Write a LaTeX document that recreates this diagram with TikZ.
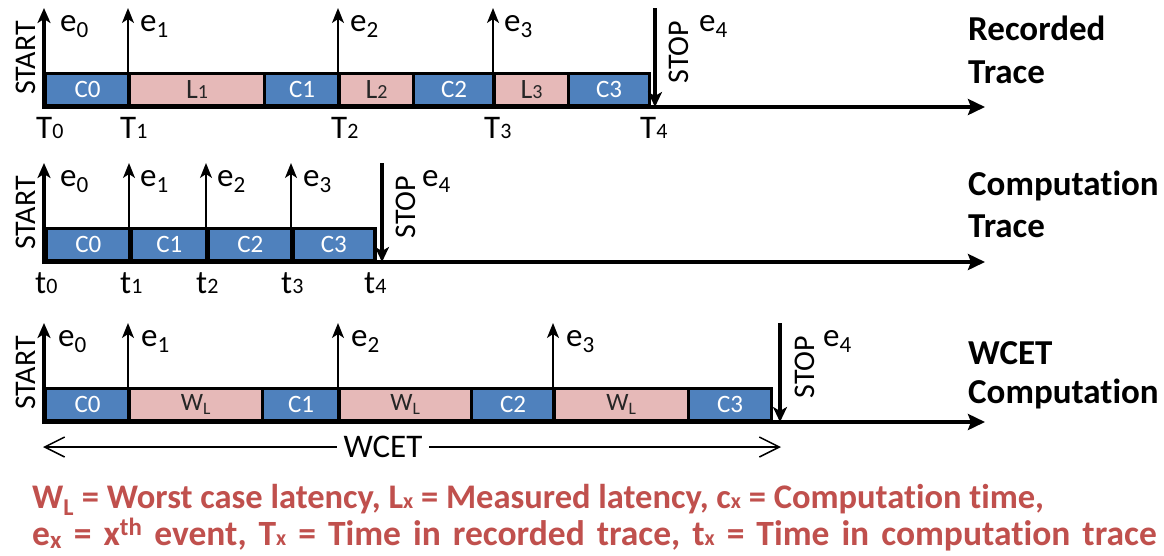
\documentclass[tikz,border=0pt]{standalone}
\usepackage{fontspec}
\setmainfont{Carlito}[Ligatures=NoCommon]
\usetikzlibrary{arrows.meta}
\definecolor{cblue}{RGB}{79,129,189}
\definecolor{cpink}{RGB}{230,185,184}
\definecolor{legred}{RGB}{192,80,77}
\newcommand\lblf{\fontsize{33}{38}\selectfont}
\newcommand\rotf{\fontsize{30}{36}\selectfont}
\newcommand\smd[1]{{\fontsize{22}{22}\selectfont #1}}
\newcommand\smc[1]{{\fontsize{20}{20}\selectfont #1}}
\newcommand\smb[1]{{\fontsize{22}{22}\selectfont #1}}
\tikzset{
  seg/.style={draw=black, line width=3pt, minimum height=32pt, inner sep=0pt, anchor=south west},
  cseg/.style={seg, fill=cblue, text=white, font=\fontsize{25}{25}\selectfont},
  lseg/.style={seg, fill=cpink, text=black!85, font=\fontsize{28}{28}\selectfont},
  wseg/.style={seg, fill=cpink, text=black!85, font=\fontsize{25}{25}\selectfont},
  axisline/.style={line width=4pt, -{Stealth[length=17pt,width=16pt,inset=3pt]}},
  evarrow/.style={line width=1.8pt, -{Stealth[length=15pt,width=12pt,inset=4pt]}},
  startarrow/.style={line width=4pt, -{Stealth[length=15pt,width=13pt,inset=4pt]}},
  stoparrow/.style={line width=4.5pt, -{Stealth[length=15pt,width=14pt,inset=4pt]}},
  lbl/.style={font=\lblf, inner sep=0pt, anchor=base west},
  rot/.style={font=\rotf, inner sep=0pt, rotate=90},
  ttl/.style={font=\bfseries\fontsize{35}{35}\selectfont, inner sep=0pt, anchor=base west},
  leg/.style={font=\bfseries\fontsize{34.5}{34.5}\selectfont, text=legred, inner sep=0pt, anchor=base west},
  legb/.style={font=\bfseries\fontsize{35.5}{35.5}\selectfont, text=legred, inner sep=0pt, anchor=base west},
  wcetarrow/.style={line width=1.5pt, {Straight Barb[length=20pt,width=20pt]}-{Straight Barb[length=20pt,width=20pt]}},
}
\newcommand\tseg[6]{\node[#5, minimum width={#3-#2}] (#1) at (#2,#4) {#6};}
\begin{document}
\begin{tikzpicture}[x=1pt,y=-1pt]
\useasboundingbox[fill=white] (0,0) rectangle (1164,555);

% ---------------- Row 1: Recorded trace ----------------
\tseg{ra}{44}{128}{107}{cseg}{C0}
\tseg{rb}{128}{263}{107}{lseg}{L\smc{1}}
\tseg{rc}{263}{338}{107}{cseg}{C1}
\tseg{rd}{338}{412}{107}{lseg}{L\smc{2}}
\tseg{re}{412}{493}{107}{cseg}{C2}
\tseg{rf}{493}{567}{107}{lseg}{L\smc{3}}
\tseg{rg}{567}{648}{107}{cseg}{C3}
\coordinate (r1a) at (42,107);
\coordinate (r1b) at (985,107);
\draw[axisline] (r1a) -- (r1b);
\coordinate (r1s0) at (44,109); \coordinate (r1s1) at (44,8);
\draw[startarrow] (r1s0) -- (r1s1);
\coordinate (r1e1a) at (128,107); \coordinate (r1e1b) at (128,8);
\draw[evarrow] (r1e1a) -- (r1e1b);
\coordinate (r1e2a) at (338,107); \coordinate (r1e2b) at (338,8);
\draw[evarrow] (r1e2a) -- (r1e2b);
\coordinate (r1e3a) at (493,107); \coordinate (r1e3b) at (493,8);
\draw[evarrow] (r1e3a) -- (r1e3b);
\coordinate (r1p0) at (655,8); \coordinate (r1p1) at (655,107);
\draw[stoparrow] (r1p0) -- (r1p1);
\node[rot] (r1start) at (26,58) {START};
\node[rot] (r1stop) at (679,52) {STOP};
\node[lbl] (r1l0) at (60,31) {e\textsubscript{0}};
\node[lbl] (r1l1) at (140,31) {e\textsubscript{1}};
\node[lbl] (r1l2) at (350,31) {e\textsubscript{2}};
\node[lbl] (r1l3) at (504,31) {e\textsubscript{3}};
\node[lbl] (r1l4) at (699,31) {e\textsubscript{4}};
\node[lbl] (r1t0) at (36,138) {T\smd{0}};
\node[lbl] (r1t1) at (120,138) {T\smd{1}};
\node[lbl] (r1t2) at (331,138) {T\smd{2}};
\node[lbl] (r1t3) at (484,138) {T\smd{3}};
\node[lbl] (r1t4) at (640,138) {T\smd{4}};
\node[ttl] (r1n1) at (968,40) {Recorded};
\node[ttl] (r1n2) at (968,83) {Trace};

% ---------------- Row 2: Computation trace ----------------
\tseg{ca}{44}{129}{262}{cseg,line width=3.5pt}{C0}
\tseg{cb}{129}{206}{262}{cseg,line width=3.5pt}{C1}
\tseg{cc}{206}{291}{262}{cseg,line width=3.5pt}{C2}
\tseg{cd}{291}{373}{262}{cseg,line width=3.5pt}{C3}
\coordinate (r2a) at (42,262);
\coordinate (r2b) at (985,262);
\draw[axisline] (r2a) -- (r2b);
\coordinate (r2s0) at (44,264); \coordinate (r2s1) at (44,163);
\draw[startarrow] (r2s0) -- (r2s1);
\coordinate (r2e1a) at (129,262); \coordinate (r2e1b) at (129,163);
\draw[evarrow] (r2e1a) -- (r2e1b);
\coordinate (r2e2a) at (206,262); \coordinate (r2e2b) at (206,163);
\draw[evarrow] (r2e2a) -- (r2e2b);
\coordinate (r2e3a) at (291,262); \coordinate (r2e3b) at (291,163);
\draw[evarrow] (r2e3a) -- (r2e3b);
\coordinate (r2p0) at (382,163); \coordinate (r2p1) at (382,262);
\draw[stoparrow] (r2p0) -- (r2p1);
\node[rot] (r2start) at (26,213) {START};
\node[rot] (r2stop) at (406,207) {STOP};
\node[lbl] (r2l0) at (60,186) {e\textsubscript{0}};
\node[lbl] (r2l1) at (140,186) {e\textsubscript{1}};
\node[lbl] (r2l2) at (217,186) {e\textsubscript{2}};
\node[lbl] (r2l3) at (303,186) {e\textsubscript{3}};
\node[lbl] (r2l4) at (422,186) {e\textsubscript{4}};
\node[lbl] (r2t0) at (35,293) {t\smd{0}};
\node[lbl] (r2t1) at (120,293) {t\smd{1}};
\node[lbl] (r2t2) at (196,293) {t\smd{2}};
\node[lbl] (r2t3) at (281,293) {t\smd{3}};
\node[lbl] (r2t4) at (364,293) {t\smd{4}};
\node[ttl] (r2n1) at (968,195) {Computation};
\node[ttl] (r2n2) at (968,237) {Trace};

% ---------------- Row 3: WCET computation ----------------
\tseg{wa}{44}{128}{422}{cseg}{C0}
\tseg{wb}{128}{261}{422}{wseg}{W\textsubscript{L}}
\tseg{wc}{261}{338}{422}{cseg}{C1}
\tseg{wd}{338}{470}{422}{wseg}{W\textsubscript{L}}
\tseg{we}{470}{553}{422}{cseg}{C2}
\tseg{wf}{553}{687}{422}{wseg}{W\textsubscript{L}}
\tseg{wg}{687}{770}{422}{cseg}{C3}
\coordinate (r3a) at (42,422);
\coordinate (r3b) at (985,422);
\draw[axisline] (r3a) -- (r3b);
\coordinate (r3s0) at (44,424); \coordinate (r3s1) at (44,323);
\draw[startarrow] (r3s0) -- (r3s1);
\coordinate (r3e1a) at (128,422); \coordinate (r3e1b) at (128,323);
\draw[evarrow] (r3e1a) -- (r3e1b);
\coordinate (r3e2a) at (338,422); \coordinate (r3e2b) at (338,323);
\draw[evarrow] (r3e2a) -- (r3e2b);
\coordinate (r3e3a) at (553,422); \coordinate (r3e3b) at (553,323);
\draw[evarrow] (r3e3a) -- (r3e3b);
\coordinate (r3p0) at (780,323); \coordinate (r3p1) at (780,422);
\draw[stoparrow] (r3p0) -- (r3p1);
\node[rot] (r3start) at (26,373) {START};
\node[rot] (r3stop) at (805,367) {STOP};
\node[lbl] (r3l0) at (58,346) {e\textsubscript{0}};
\node[lbl] (r3l1) at (141,346) {e\textsubscript{1}};
\node[lbl] (r3l2) at (351,346) {e\textsubscript{2}};
\node[lbl] (r3l3) at (566,346) {e\textsubscript{3}};
\node[lbl] (r3l4) at (823,346) {e\textsubscript{4}};
\coordinate (wl) at (43,447);
\coordinate (wr) at (781,447);
\draw[wcetarrow] (wl) -- (wr);
\node[font=\lblf, fill=white, inner xsep=7pt, inner ysep=0pt] (wcet) at (383,447) {WCET};
\node[ttl] (r3n1) at (968,364) {WCET};
\node[ttl] (r3n2) at (968,403) {Computation};

% ---------------- Legend ----------------
\node[leg] (leg1) at (32,508) {W\textsubscript{L} = Worst case latency, L\smb{x} = Measured latency, c\smb{x} = Computation time,};
\node[legb] (leg2) at (32,545) {\spaceskip=12pt plus 1pt minus 1pt\relax e\textsubscript{x} = x\textsuperscript{th} event, T\smb{x} = Time in recorded trace, t\smb{x} = Time in computation trace};
\end{tikzpicture}
\end{document}
